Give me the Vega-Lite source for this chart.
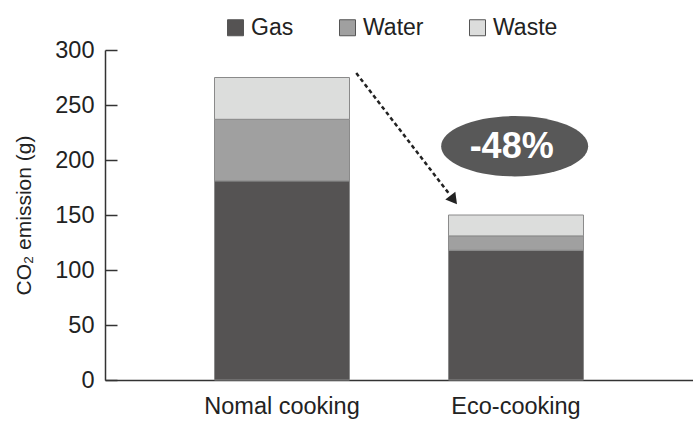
{
  "$schema": "https://vega.github.io/schema/vega-lite/v6.json",
  "width": 588,
  "height": 330,
  "autosize": "none",
  "padding": {"left": 105, "top": 50, "right": 0, "bottom": 41},
  "config": {"view": {"stroke": null}, "font": "Liberation Sans", "background": "white"},
  "layer": [
    {
      "data": {"values": [
        {"cooking": "Nomal cooking", "source": "Gas", "value": 181, "order": 1},
        {"cooking": "Nomal cooking", "source": "Water", "value": 56, "order": 2},
        {"cooking": "Nomal cooking", "source": "Waste", "value": 38, "order": 3},
        {"cooking": "Eco-cooking", "source": "Gas", "value": 118, "order": 1},
        {"cooking": "Eco-cooking", "source": "Water", "value": 13, "order": 2},
        {"cooking": "Eco-cooking", "source": "Waste", "value": 19, "order": 3}
      ]},
      "mark": {"type": "bar", "stroke": "#8a8a8a", "strokeWidth": 1},
      "encoding": {
        "x": {"field": "cooking", "type": "nominal",
          "scale": {"domain": ["Nomal cooking", "Eco-cooking"], "paddingInner": 0.423, "paddingOuter": 0.468},
          "axis": {"title": null, "labelAngle": 0, "ticks": false, "labelFontSize": 23.5, "labelPadding": 14,
            "domainColor": "#333", "domainWidth": 1.5, "labelColor": "#222"}},
        "y": {"field": "value", "type": "quantitative", "stack": "zero",
          "scale": {"domain": [0, 300], "nice": false},
          "axis": {"title": "CO₂ emission (g)", "values": [0, 50, 100, 150, 200, 250, 300], "grid": false,
            "tickSize": -12, "tickWidth": 1.5, "tickColor": "#333", "domainColor": "#333", "domainWidth": 1.5,
            "labelFontSize": 23.5, "labelPadding": 23, "labelColor": "#222",
            "titleFontSize": 21, "titleFontWeight": "normal", "titleColor": "#222", "titlePadding": 20}},
        "color": {"field": "source", "type": "nominal",
          "scale": {"domain": ["Gas", "Water", "Waste"], "range": ["#555353", "#a0a0a0", "#dcdddc"]},
          "legend": {"title": null, "orient": "none", "legendX": 119, "legendY": -34, "direction": "horizontal",
            "symbolType": "square", "symbolSize": 256, "symbolStrokeColor": "#555", "symbolStrokeWidth": 1,
            "labelFontSize": 23, "labelOffset": 4, "columnPadding": 42, "labelColor": "#222"}},
        "order": {"field": "order"}
      }
    },
    {
      "data": {"values": [{"from": "Nomal cooking", "to": "Eco-cooking", "y1": 279, "y2": 170}]},
      "mark": {"type": "rule", "strokeDash": [4, 3], "strokeWidth": 2.5, "color": "#222"},
      "encoding": {
        "x": {"field": "from", "type": "nominal", "bandPosition": 1.05},
        "x2": {"field": "to", "bandPosition": 0.0},
        "y": {"field": "y1", "type": "quantitative"},
        "y2": {"field": "y2"}
      }
    },
    {
      "data": {"values": [{"cooking": "Eco-cooking", "y": 165}]},
      "mark": {"type": "point", "shape": "triangle", "filled": true, "opacity": 1, "color": "#222", "size": 160, "angle": 142.6},
      "encoding": {
        "x": {"field": "cooking", "type": "nominal", "bandPosition": 0.03},
        "y": {"field": "y", "type": "quantitative"}
      }
    },
    {
      "data": {"values": [{"cooking": "Eco-cooking", "y": 212.5, "label": "-48%"}]},
      "mark": {"type": "point", "shape": "M -1 0 A 1 0.41 0 1 0 1 0 A 1 0.41 0 1 0 -1 0 Z", "filled": true, "opacity": 1, "color": "#585858", "size": 21609},
      "encoding": {
        "x": {"field": "cooking", "type": "nominal", "bandPosition": 0.49},
        "y": {"field": "y", "type": "quantitative"}
      }
    },
    {
      "data": {"values": [{"cooking": "Eco-cooking", "y": 212.5, "label": "-48%"}]},
      "mark": {"type": "text", "color": "white", "fontWeight": "bold", "fontSize": 36, "baseline": "middle", "align": "center", "dx": -3, "dy": 1},
      "encoding": {
        "x": {"field": "cooking", "type": "nominal", "bandPosition": 0.49},
        "y": {"field": "y", "type": "quantitative"},
        "text": {"field": "label"}
      }
    }
  ]
}
